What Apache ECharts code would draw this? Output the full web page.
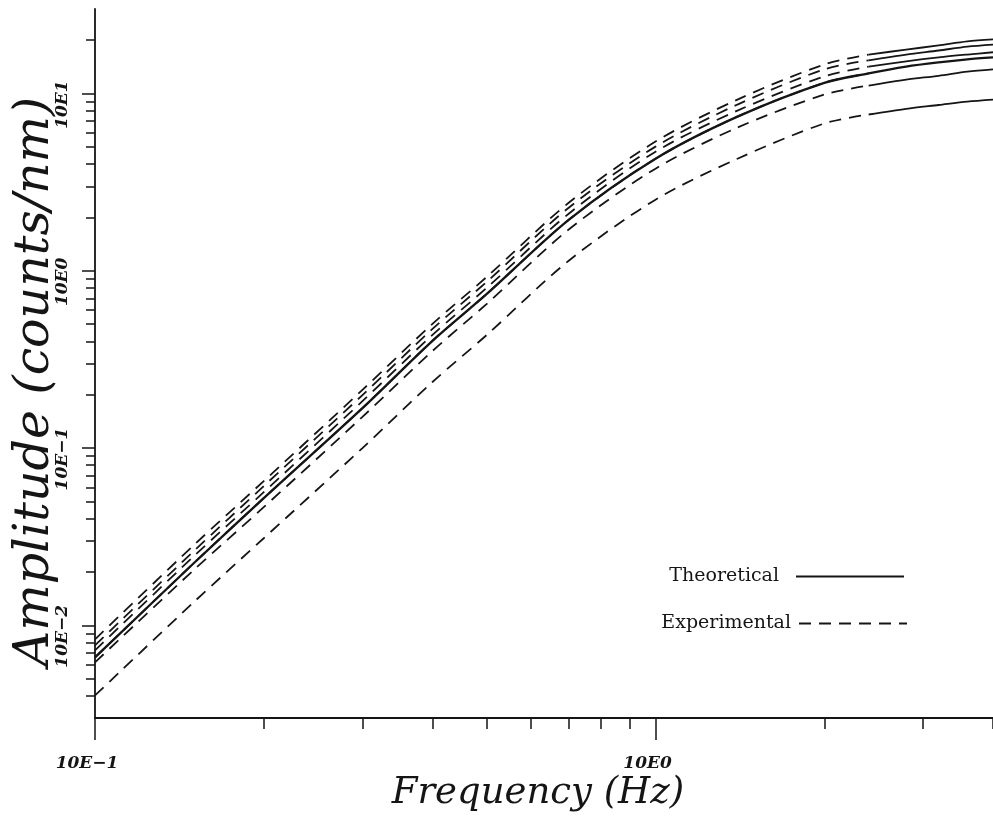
<!DOCTYPE html>
<html>
<head>
<meta charset="utf-8">
<script src="https://cdn.jsdelivr.net/npm/echarts@6/dist/echarts.min.js"></script>
<style>
  html, body { margin: 0; padding: 0; background: #fff; }
  #chart { width: 993px; height: 818px; }
</style>
</head>
<body>
<div id="chart"></div>
<script>
var FREQ = [0.1, 0.15, 0.2, 0.3, 0.4, 0.5, 0.7, 1.0, 1.4, 2.0, 2.4, 2.8, 3.2, 3.6, 4.0];
var SPLIT = 10; // index of 2.4 Hz : dashed part stops, solid part starts

// amplitude (counts/nm), top curve to bottom curve
var curve1 = [0.00834, 0.0283, 0.0651, 0.213, 0.502, 0.925, 2.42, 5.36, 9.25, 14.6, 16.6, 17.7, 18.7, 19.7, 20.2];
var curve2 = [0.00771, 0.0262, 0.0610, 0.199, 0.470, 0.867, 2.27, 5.02, 8.67, 13.7, 15.4, 16.6, 17.5, 18.4, 18.9];
var curve3 = [0.00723, 0.0245, 0.0564, 0.184, 0.435, 0.802, 2.10, 4.70, 8.01, 12.5, 14.2, 15.2, 16.0, 16.6, 17.1];
var curve4 = [0.00659, 0.0224, 0.0522, 0.168, 0.403, 0.741, 1.94, 4.29, 7.41, 11.5, 13.0, 14.2, 15.0, 15.6, 16.0];
var curve5 = [0.00618, 0.0205, 0.0464, 0.150, 0.353, 0.651, 1.71, 3.77, 6.43, 9.87, 11.1, 12.0, 12.6, 13.3, 13.7];
var curve6 = [0.00402, 0.0135, 0.0310, 0.100, 0.236, 0.435, 1.14, 2.52, 4.29, 6.78, 7.62, 8.20, 8.62, 9.01, 9.25];
var CURVES = [curve1, curve2, curve3, curve4, curve5, curve6];
var FULL_THEORY = 3; // the heavy curve that is drawn solid over the whole range

var X_MIN = 0.1, X_MAX = 4, Y_MIN = 0.003, Y_MAX = 30;
var X_MAJOR = [0.1, 1];
var X_MINOR = [0.2, 0.3, 0.4, 0.5, 0.6, 0.7, 0.8, 0.9, 2, 3, 4];
var Y_MAJOR = [0.01, 0.1, 1, 10];
var Y_MINOR = [0.004, 0.005, 0.006, 0.007, 0.008, 0.009,
               0.02, 0.03, 0.04, 0.05, 0.06, 0.07, 0.08, 0.09,
               0.2, 0.3, 0.4, 0.5, 0.6, 0.7, 0.8, 0.9,
               2, 3, 4, 5, 6, 7, 8, 9, 20];

var INK = '#151515';
var SERIF = 'DejaVu Serif';
var lg = Math.log10;

function pairs(vals, from, to) {
  var out = [];
  for (var i = from; i < to; i++) out.push([FREQ[i], vals[i]]);
  return out;
}

function decadeLabel(v) {
  var n = Math.round(v);
  return '10E' + (n < 0 ? '\u2212' + (-n) : n);
}

var series = [];
CURVES.forEach(function (vals) {
  series.push({
    name: 'Experimental', type: 'line', xAxisIndex: 0, yAxisIndex: 0,
    data: pairs(vals, 0, SPLIT + 1), symbol: 'none', smooth: 0.3, silent: true,
    itemStyle: { color: INK },
    lineStyle: { color: INK, width: 1.8, type: [12, 8] }
  });
});
CURVES.forEach(function (vals, i) {
  var full = i === FULL_THEORY;
  series.push({
    name: 'Theoretical', type: 'line', xAxisIndex: 0, yAxisIndex: 0,
    data: pairs(vals, full ? 0 : SPLIT, FREQ.length), symbol: 'none', smooth: 0.3, silent: true,
    itemStyle: { color: INK },
    lineStyle: { color: INK, width: full ? 2.3 : 1.8, type: 'solid' }
  });
});

var labelFont = { fontFamily: SERIF, fontStyle: 'italic', fontWeight: 'bold', fontSize: 17, color: INK };
var titleFont = { fontFamily: SERIF, fontStyle: 'italic', fontWeight: 'normal', color: INK };
var legendFont = { fontFamily: SERIF, fontSize: 19, color: INK };

var option = {
  animation: false,
  backgroundColor: '#fff',
  textStyle: { fontFamily: SERIF },
  grid: { left: 95, right: 0, top: 9, bottom: 100, outerBoundsMode: 'none', containLabel: false },
  legend: [
    { data: ['Theoretical'], right: 88, top: 567, align: 'right', orient: 'vertical',
      itemWidth: 108, itemHeight: 10, padding: 0, selectedMode: false,
      itemStyle: { opacity: 0 },
      textStyle: Object.assign({ padding: [0, 12, 0, 0] }, legendFont) },
    { data: ['Experimental'], right: 85, top: 614, align: 'right', orient: 'vertical',
      itemWidth: 108, itemHeight: 10, padding: 0, selectedMode: false,
      itemStyle: { opacity: 0 },
      textStyle: Object.assign({ padding: [0, 3, 0, 0] }, legendFont) }
  ],
  xAxis: [
    { type: 'log', logBase: 10, min: X_MIN, max: X_MAX, show: false },
    { type: 'value', min: lg(X_MIN), max: lg(X_MAX), position: 'bottom',
      axisLine: { show: true, onZero: false, lineStyle: { color: INK, width: 1.8 } },
      axisTick: { show: true, customValues: X_MAJOR.map(lg), length: 22, lineStyle: { color: INK, width: 1.5 } },
      axisLabel: Object.assign({ show: true, customValues: X_MAJOR.map(lg), formatter: decadeLabel,
        margin: 37, padding: [0, 16, 0, 0] }, labelFont),
      splitLine: { show: false },
      name: 'Frequency (Hz)', nameLocation: 'middle', nameGap: 57, nameMoveOverlap: false,
      nameTextStyle: Object.assign({ fontSize: 37, padding: [0, 12, 0, 0] }, titleFont) },
    { type: 'value', min: lg(X_MIN), max: lg(X_MAX), position: 'bottom',
      axisLine: { show: false, onZero: false },
      axisTick: { show: true, customValues: X_MINOR.map(lg), length: 11, lineStyle: { color: INK, width: 1.5 } },
      axisLabel: { show: false }, splitLine: { show: false } }
  ],
  yAxis: [
    { type: 'log', logBase: 10, min: Y_MIN, max: Y_MAX, show: false },
    { type: 'value', min: lg(Y_MIN), max: lg(Y_MAX), position: 'left',
      axisLine: { show: true, onZero: false, lineStyle: { color: INK, width: 1.8 } },
      axisTick: { show: true, customValues: Y_MAJOR.map(lg), length: 13, lineStyle: { color: INK, width: 1.5 } },
      axisLabel: Object.assign({ show: true, customValues: Y_MAJOR.map(lg), formatter: decadeLabel,
        rotate: 90, margin: 24, padding: [0, 22, 0, 0] }, labelFont),
      splitLine: { show: false },
      name: 'Amplitude (counts/nm)', nameLocation: 'middle', nameRotate: 90, nameGap: 35, nameMoveOverlap: false,
      nameTextStyle: Object.assign({ fontSize: 49, padding: [0, 36, 0, 0] }, titleFont) },
    { type: 'value', min: lg(Y_MIN), max: lg(Y_MAX), position: 'left',
      axisLine: { show: false, onZero: false },
      axisTick: { show: true, customValues: Y_MINOR.map(lg), length: 9, lineStyle: { color: INK, width: 1.5 } },
      axisLabel: { show: false }, splitLine: { show: false } }
  ],
  series: series
};

var chart = echarts.init(document.getElementById('chart'));
chart.setOption(option);
</script>
</body>
</html>
